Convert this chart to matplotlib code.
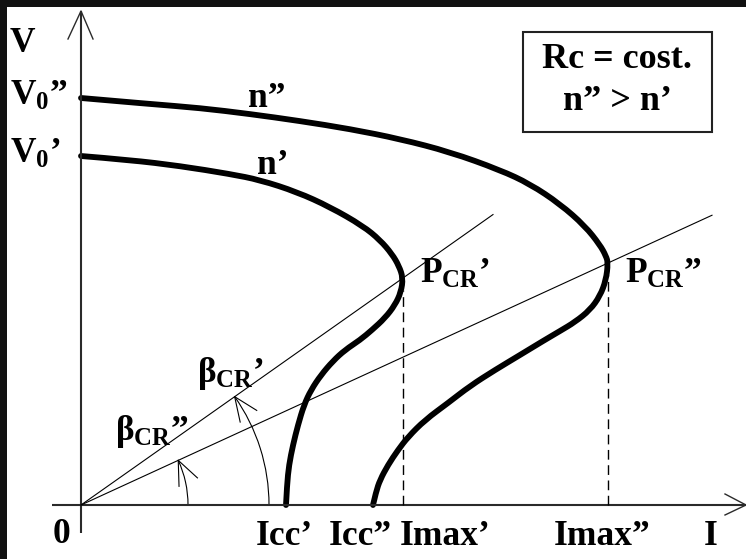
import numpy as np
import matplotlib
matplotlib.use("Agg")
import matplotlib.pyplot as plt
from matplotlib.patches import Arc, Rectangle, PathPatch
from matplotlib.path import Path

plt.rcParams['font.family'] = ['Liberation Serif', 'DejaVu Serif']
plt.rcParams['font.weight'] = 'bold'
plt.rcParams['mathtext.fontset'] = 'custom'
plt.rcParams['mathtext.rm'] = 'Liberation Serif:bold'
plt.rcParams['mathtext.bf'] = 'Liberation Serif:bold'
plt.rcParams['mathtext.it'] = 'Liberation Serif'

# --- characteristic curves V(I) for two speeds, n' and n'' (Rc constant) ---
# upper branch from V0 down to the critical point, then the lower branch to Icc
I_n2 = [0, 69, 119, 169, 219, 269, 319, 369, 419, 449, 479, 504, 519, 525, 527,
        525, 519, 509, 494, 479, 462, 439, 414, 389, 367, 344, 327, 317, 307, 299, 295, 292]
V_n2 = [407, 401, 397, 391, 384, 376, 366, 353, 335, 321, 301, 279, 260, 249, 242,
        225, 209, 195, 183, 174, 164, 150, 135, 119, 102, 85, 68, 55, 40, 25, 13, 0]

I_n1 = [0, 49, 99, 149, 179, 216, 249, 282, 299, 311, 318, 322,
        320, 314, 304, 291, 279, 264, 252, 240, 230, 223, 217, 212, 208, 206, 205]
V_n1 = [349, 345, 339, 331, 325, 313, 298, 279, 265, 251, 239, 227,
        213, 200, 187, 175, 165, 155, 144, 130, 115, 100, 80, 60, 40, 20, 0]

# critical points P_CR' and P_CR''
P_cr1 = (322, 227)
P_cr2 = (527, 242)
# how far the load lines through the origin are drawn
line_end_I = [412, 631]
# radii of the angle arcs beta_CR' and beta_CR''
arc_r = [188, 107]

tick_names = ["Icc’", "Icc”", "Imax’", "Imax”", "I"]
tick_text_x = [203, 279, 364, 521, 630]


def smooth_path(xs, ys):
    """Quadratic Bezier path using the points as control points (ends kept)."""
    p = np.column_stack([xs, ys]).astype(float)
    verts = [p[0]]
    codes = [Path.MOVETO]
    for k in range(1, len(p) - 1):
        end = p[-1] if k == len(p) - 2 else (p[k] + p[k + 1]) / 2
        verts += [p[k], end]
        codes += [Path.CURVE3, Path.CURVE3]
    return Path(verts, codes)


fig = plt.figure(figsize=(7.46, 5.59), dpi=100, facecolor='#111111')
ax = fig.add_axes([7 / 746, 0, 739 / 746, 552 / 559])
ax.set_facecolor('white')
ax.set_xlim(-74, 665)
ax.set_ylim(-54, 498)
ax.set_xticks([])
ax.set_yticks([])
for sp in ax.spines.values():
    sp.set_visible(False)

axis_col = '#2a2a2a'
# coordinate axes with open arrowheads
ax.plot([-29, 665], [0, 0], color=axis_col, lw=1.5, solid_capstyle='butt')
ax.plot([0, 0], [-28, 494], color=axis_col, lw=1.5, solid_capstyle='butt')
ax.plot([-13, 0, 12], [466, 494, 466], color=axis_col, lw=1.0)
ax.plot([644, 665, 644], [11, 0, -10], color=axis_col, lw=1.0)

# load lines from the origin through the critical points
for (pi, pv), iend in zip([P_cr1, P_cr2], line_end_I):
    ax.plot([0, iend], [0, iend * pv / pi], color='black', lw=0.8)

# dashed projections of the critical points
for (pi, pv) in [P_cr1, P_cr2]:
    ax.plot([pi, pi], [0, pv - 12], color='black', lw=1.0, dashes=[7, 4])

# the two characteristics
for xs, ys in [(I_n1, V_n1), (I_n2, V_n2)]:
    ax.add_patch(PathPatch(smooth_path(xs, ys), fill=False, edgecolor='black',
                           lw=4.2, capstyle='round', joinstyle='round'))

# angle arcs with open arrowheads
for (pi, pv), r in zip([P_cr1, P_cr2], arc_r):
    th = np.degrees(np.arctan2(pv, pi))
    ax.add_patch(Arc((0, 0), 2 * r, 2 * r, theta1=0, theta2=th, color='black', lw=0.8))
    t = np.radians(th)
    tip = np.array([r * np.cos(t), r * np.sin(t)])
    back = np.arctan2(-np.cos(t), np.sin(t))
    for d in (-0.40, 0.40):
        a = back + d
        ax.plot([tip[0], tip[0] + 26 * np.cos(a)], [tip[1], tip[1] + 26 * np.sin(a)],
                color='black', lw=0.8)

fs = 25.5
# axis labels
ax.text(-71, 453, "V", fontsize=fs, ha='left', va='baseline')
ax.text(-71, 400, r"$\mathbf{V}_{\mathbf{0}}$”", fontsize=fs, ha='left', va='baseline')
ax.text(-71, 342, r"$\mathbf{V}_{\mathbf{0}}$’", fontsize=fs, ha='left', va='baseline')
ax.text(-20, -38, "0", fontsize=fs, ha='center', va='baseline')
for name, x in zip(tick_names, tick_text_x):
    ax.text(x, -40, name, fontsize=fs, ha='center', va='baseline')

# curve labels
ax.text(167, 398, "n”", fontsize=fs, ha='left', va='baseline')
ax.text(176, 331, "n’", fontsize=fs, ha='left', va='baseline')
ax.text(339, 222, r"$\mathbf{P}_{\mathbf{CR}}$’", fontsize=fs, ha='left', va='baseline')
ax.text(544, 222, r"$\mathbf{P}_{\mathbf{CR}}$”", fontsize=fs, ha='left', va='baseline')
ax.text(116, 123, r"$\beta_{\mathbf{CR}}$’", fontsize=fs, ha='left', va='baseline')
ax.text(34, 65, r"$\beta_{\mathbf{CR}}$”", fontsize=fs, ha='left', va='baseline')

# note box
ax.add_patch(Rectangle((442, 373), 189, 100, fill=False, edgecolor='#222222', lw=1.5))
ax.text(536.5, 437, "Rc = cost.", fontsize=26, ha='center', va='baseline')
ax.text(536.5, 395, "n” > n’", fontsize=26, ha='center', va='baseline')

fig.savefig("out.png", dpi=100, facecolor=fig.get_facecolor())
